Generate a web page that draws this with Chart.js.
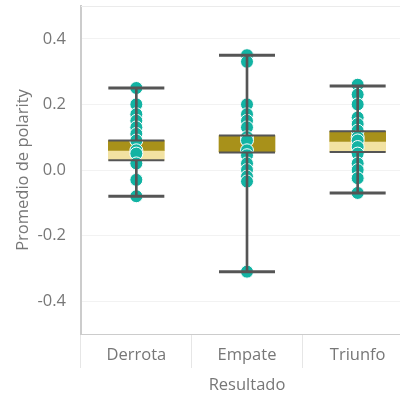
<!DOCTYPE html>
<html>
<head>
<meta charset="utf-8">
<script src="https://cdn.jsdelivr.net/npm/chart.js@4/dist/chart.umd.min.js"></script>
<style>
  html, body { margin: 0; padding: 0; background: #ffffff; overflow: hidden; }
  #wrap { width: 414px; height: 396px; }
</style>
</head>
<body>
<div id="wrap"><canvas id="chart" width="414" height="396"></canvas></div>
<script>
// Categories (match outcome)
const categories = ['Derrota', 'Empate', 'Triunfo'];

// Box-and-whisker statistics per category
const whiskerMin = [-0.08, -0.31, -0.07];
const q1Values   = [0.03, 0.053, 0.055];
const medians    = [0.06, 0.056, 0.087];
const q3Values   = [0.09, 0.105, 0.118];
const whiskerMax = [0.25, 0.35, 0.256];

// Individual observations (average polarity per match)
const derrotaPoints = [0.25, 0.2, 0.17, 0.15, 0.13, 0.11, 0.09, 0.06, 0.05, 0.02, -0.03, -0.08];
const empatePoints  = [0.35, 0.33, 0.2, 0.17, 0.15, 0.13, 0.1, 0.09, 0.06, 0.045, 0.02, 0.0, -0.02, -0.035, -0.31];
const triunfoPoints = [0.26, 0.23, 0.2, 0.16, 0.14, 0.12, 0.1, 0.09, 0.07, 0.05, 0.02, 0.0, -0.025, -0.07];

// Y axis tick values
const yTicks = [-0.4, -0.2, 0.0, 0.2, 0.4];

const FONT = '"Open Sans", "Segoe UI", sans-serif';
const TEXT = '#777777';
const LINE_DARK = '#555555';

const pointData = [];
[derrotaPoints, empatePoints, triunfoPoints].forEach((arr, i) => {
  arr.forEach(v => pointData.push({ x: categories[i], y: v }));
});

const asXY = vals => vals.map((v, i) => ({ x: categories[i], y: v }));

const frame = {
  id: 'frame',
  beforeDatasetsDraw(chart) {
    const { ctx, chartArea: a } = chart;
    ctx.save();
    ctx.strokeStyle = '#ebebeb';
    ctx.lineWidth = 1;
    ctx.beginPath();
    ctx.moveTo(a.left, a.top + 0.5);
    ctx.lineTo(a.right, a.top + 0.5);
    ctx.stroke();
    ctx.restore();
  }
};

new Chart(document.getElementById('chart'), {
  type: 'bar',
  data: {
    labels: categories,
    datasets: [
      // whisker caps
      {
        type: 'line', showLine: false, order: 0,
        data: asXY(whiskerMin).concat(asXY(whiskerMax)),
        pointStyle: 'line', pointRadius: 28, pointBorderWidth: 3,
        pointBorderColor: LINE_DARK, pointHoverRadius: 28
      },
      // box edges (Q1 / Q3)
      {
        type: 'line', showLine: false, order: 0,
        data: asXY(q1Values).concat(asXY(q3Values)),
        pointStyle: 'line', pointRadius: 28, pointBorderWidth: 2,
        pointBorderColor: LINE_DARK, pointHoverRadius: 28
      },
      // whisker stems
      {
        order: 1, grouped: false, barThickness: 2,
        data: q1Values.map((q, i) => [whiskerMin[i], q]),
        backgroundColor: LINE_DARK
      },
      {
        order: 1, grouped: false, barThickness: 2,
        data: q3Values.map((q, i) => [q, whiskerMax[i]]),
        backgroundColor: LINE_DARK
      },
      // observations
      {
        type: 'line', showLine: false, order: 2,
        data: pointData,
        pointRadius: 6.5, pointHoverRadius: 6.5,
        pointBackgroundColor: '#12b3a3', pointBorderColor: '#ffffff',
        pointBorderWidth: 1
      },
      // upper half of the box (median to Q3)
      {
        order: 3, grouped: false, barThickness: 56,
        data: medians.map((m, i) => [m, q3Values[i]]),
        backgroundColor: '#a8911a'
      },
      // lower half of the box (Q1 to median)
      {
        order: 3, grouped: false, barThickness: 56,
        data: medians.map((m, i) => [q1Values[i], m]),
        backgroundColor: '#f2e2a2'
      }
    ]
  },
  options: {
    responsive: false,
    animation: false,
    events: [],
    layout: { autoPadding: false, padding: { top: 6, right: 1, bottom: 0, left: 0 } },
    plugins: { legend: { display: false }, tooltip: { enabled: false } },
    scales: {
      x: {
        offset: true,
        grid: {
          offset: true, drawOnChartArea: false, drawTicks: true,
          tickLength: 34, color: '#e6e6e6'
        },
        border: { display: true, color: '#cccccc', width: 1 },
        ticks: { color: TEXT, font: { family: FONT, size: 16.5 }, padding: -23 },
        title: {
          display: true, text: 'Resultado', color: TEXT,
          font: { family: FONT, size: 16.5 }, padding: { top: 1, bottom: 1 }
        },
        afterFit(scale) {
          scale.height = 62;
          scale.paddingLeft = 0;
          scale.paddingRight = 0;
        }
      },
      y: {
        min: -0.5, max: 0.5,
        afterBuildTicks(scale) { scale.ticks = yTicks.map(v => ({ value: v })); },
        grid: { color: '#f2f2f2', drawTicks: false },
        border: { display: true, color: '#cccccc', width: 2 },
        ticks: {
          color: TEXT, font: { family: FONT, size: 16.5 }, padding: 15,
          callback: v => Number(v).toFixed(1)
        },
        title: {
          display: true, text: 'Promedio de polarity', color: TEXT,
          font: { family: FONT, size: 16.5 }, padding: { top: 13, bottom: 13 }
        },
        afterFit(scale) {
          scale.width = 81;
          scale.paddingTop = 0;
          scale.paddingBottom = 0;
        }
      }
    }
  },
  plugins: [frame]
});
</script>
</body>
</html>
